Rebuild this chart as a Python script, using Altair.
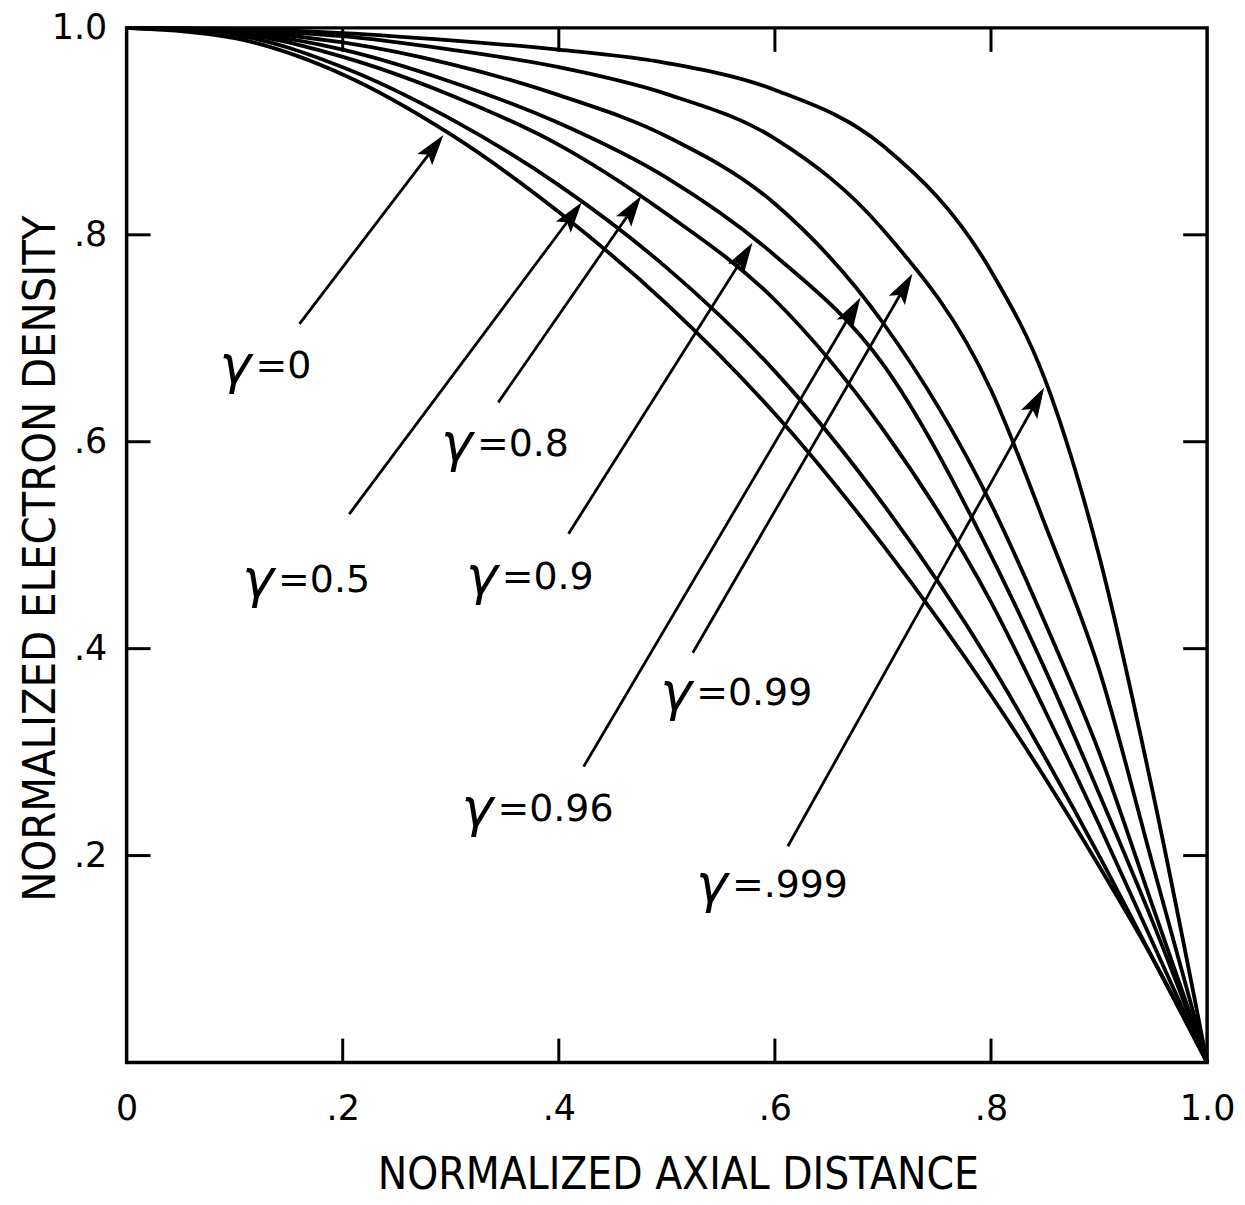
import math
import altair as alt
import pandas as pd

# ---------------- data ----------------
GAMMA_LABELS = ["0", "0.5", "0.8", "0.9", "0.96", "0.99", ".999"]

# normalized axial distance grid
DIST = [0, 0.1, 0.2, 0.3, 0.4, 0.5, 0.6, 0.7, 0.8, 0.85, 0.9, 0.95, 1.0]

# normalized electron density of each curve on that grid
Y_G0    = [1.0, 0.990, 0.955, 0.897, 0.822, 0.733, 0.627, 0.500, 0.355, 0.275, 0.190, 0.100, 0.0]
Y_G05   = [1.0, 0.993, 0.962, 0.912, 0.848, 0.768, 0.668, 0.540, 0.385, 0.295, 0.200, 0.100, 0.0]
Y_G08   = [1.0, 0.995, 0.972, 0.935, 0.887, 0.820, 0.737, 0.612, 0.445, 0.340, 0.230, 0.115, 0.0]
Y_G09   = [1.0, 0.996, 0.979, 0.948, 0.908, 0.855, 0.780, 0.675, 0.490, 0.380, 0.260, 0.135, 0.0]
Y_G096  = [1.0, 0.997, 0.986, 0.965, 0.935, 0.895, 0.830, 0.715, 0.540, 0.425, 0.300, 0.150, 0.0]
Y_G099  = [1.0, 0.998, 0.992, 0.979, 0.962, 0.936, 0.893, 0.805, 0.650, 0.520, 0.380, 0.190, 0.0]
Y_G0999 = [1.0, 0.999, 0.995, 0.988, 0.979, 0.966, 0.940, 0.886, 0.765, 0.660, 0.490, 0.260, 0.0]
CURVES_Y = [Y_G0, Y_G05, Y_G08, Y_G09, Y_G096, Y_G099, Y_G0999]

# annotation arrows (tail -> tip) and label anchors, in data units
ARROW_X1 = [0.160, 0.206, 0.344, 0.409, 0.423, 0.524, 0.612]
ARROW_Y1 = [0.714, 0.530, 0.638, 0.511, 0.286, 0.396, 0.209]
ARROW_X2 = [0.293, 0.421, 0.476, 0.579, 0.679, 0.727, 0.849]
ARROW_Y2 = [0.896, 0.831, 0.837, 0.792, 0.739, 0.762, 0.652]
LABEL_X  = [0.086, 0.107, 0.291, 0.314, 0.310, 0.494, 0.527]
LABEL_Y  = [0.672, 0.465, 0.597, 0.468, 0.244, 0.356, 0.171]

X_TICKS = [0, 0.2, 0.4, 0.6, 0.8, 1.0]
Y_TICKS = [0.2, 0.4, 0.6, 0.8, 1.0]
INNER_TICKS = [0.2, 0.4, 0.6, 0.8]

# ---------------- layout ----------------
W, H = 1084, 1038
TICK_LEN = 24
HEAD = 15  # px from arrowhead centre to tip
FONT = "DejaVu Sans"
TITLE_FONT = "DejaVu Sans Condensed"

# ---------------- tables ----------------
rows = []
for g, ys in zip(GAMMA_LABELS, CURVES_Y):
    for i, (xv, yv) in enumerate(zip(DIST, ys)):
        rows.append({"gamma": g, "x": xv, "y": yv, "o": i})
curves = pd.DataFrame(rows)

arows = []
for g, x1, y1, x2, y2, lx, ly in zip(GAMMA_LABELS, ARROW_X1, ARROW_Y1, ARROW_X2, ARROW_Y2, LABEL_X, LABEL_Y):
    ux, uy = (x2 - x1) * W, (y2 - y1) * H
    L = math.hypot(ux, uy)
    cx = x2 - HEAD * ux / L / W
    cy = y2 - HEAD * uy / L / H
    ang = math.degrees(math.atan2(ux, uy))
    arows.append({"gamma": g, "x1": x1, "y1": y1, "cx": cx, "cy": cy, "ang": ang,
                  "lx": lx, "ly": ly, "val": "=" + g})
arrows = pd.DataFrame(arows)

ticks = pd.DataFrame({"t": INNER_TICKS})

xscale = alt.Scale(domain=[0, 1], nice=False, zero=False)
yscale = alt.Scale(domain=[0, 1], nice=False, zero=False)

lab_expr_x = "datum.value == 0 ? '0' : datum.value == 1 ? '1.0' : replace(format(datum.value, '.1f'), '0.', '.')"
lab_expr_y = "datum.value == 1 ? '1.0' : replace(format(datum.value, '.1f'), '0.', '.')"

lines = alt.Chart(curves).mark_line(
    color="black", strokeWidth=3.8, interpolate="monotone"
).encode(
    x=alt.X("x:Q", scale=xscale,
            axis=alt.Axis(values=X_TICKS, labelExpr=lab_expr_x, ticks=False, domain=False, grid=False,
                          labelFont=FONT, labelFontSize=35, labelColor="black", labelPadding=29,
                          labelFlush=False,
                          title="NORMALIZED AXIAL DISTANCE", titleFont=TITLE_FONT, titleFontSize=44,
                          titleFontWeight="normal", titleColor="black",
                          titleX=553, titleY=113, titleAlign="center", titleBaseline="middle")),
    y=alt.Y("y:Q", scale=yscale,
            axis=alt.Axis(values=Y_TICKS, labelExpr=lab_expr_y, ticks=False, domain=False, grid=False,
                          labelFont=FONT, labelFontSize=35, labelColor="black", labelPadding=20,
                          labelFlush=False,
                          title="NORMALIZED ELECTRON DENSITY", titleFont=TITLE_FONT, titleFontSize=45,
                          titleFontWeight="normal", titleColor="black",
                          titleX=-86, titleY=532, titleAngle=270, titleAlign="center",
                          titleBaseline="middle")),
    detail="gamma:N",
    order="o:Q",
)

arrow_lines = alt.Chart(arrows).mark_rule(color="black", strokeWidth=2.8).encode(
    x="x1:Q", y="y1:Q", x2="cx:Q", y2="cy:Q"
)

heads = alt.Chart(arrows).mark_point(
    shape="M0,-1L0.6,1L0,0.6L-0.6,1Z", filled=True, color="black", opacity=1, size=961
).encode(x="cx:Q", y="cy:Q", angle=alt.Angle("ang:Q", scale=None))

gam = alt.Chart(arrows).mark_text(
    text="γ", align="left", baseline="middle", fontSize=54, font=FONT, fontStyle="italic", color="black"
).encode(x="lx:Q", y="ly:Q")

vals = alt.Chart(arrows).mark_text(
    align="left", baseline="middle", fontSize=38, font=FONT, color="black", dx=36
).encode(x="lx:Q", y="ly:Q", text="val:N")

t_bottom = alt.Chart(ticks).mark_rule(color="black", strokeWidth=3).encode(
    x="t:Q", y=alt.value(H), y2=alt.value(H - TICK_LEN))
t_top = alt.Chart(ticks).mark_rule(color="black", strokeWidth=3).encode(
    x="t:Q", y=alt.value(0), y2=alt.value(TICK_LEN))
t_left = alt.Chart(ticks).mark_rule(color="black", strokeWidth=3).encode(
    y="t:Q", x=alt.value(0), x2=alt.value(TICK_LEN))
t_right = alt.Chart(ticks).mark_rule(color="black", strokeWidth=3).encode(
    y="t:Q", x=alt.value(W), x2=alt.value(W - TICK_LEN))

chart = alt.layer(
    lines, arrow_lines, heads, gam, vals, t_bottom, t_top, t_left, t_right
).properties(
    width=W, height=H,
    padding={"left": 119, "top": 18, "right": 30, "bottom": 138},
    autosize=alt.AutoSizeParams(type="none"),
    background="white",
).configure_view(
    stroke="black", strokeWidth=3.5
)

chart.save("out.html", embed_options={"renderer": "svg", "actions": False})
